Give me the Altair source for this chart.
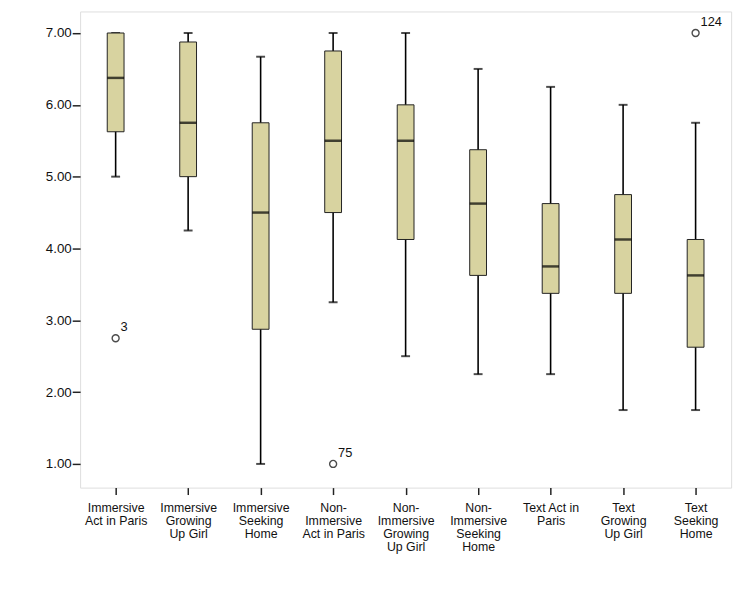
import altair as alt
import pandas as pd

categories = [
    "Immersive|Act in Paris",
    "Immersive|Growing|Up Girl",
    "Immersive|Seeking|Home",
    "Non-|Immersive|Act in Paris",
    "Non-|Immersive|Growing|Up Girl",
    "Non-|Immersive|Seeking|Home",
    "Text Act in|Paris",
    "Text|Growing|Up Girl",
    "Text|Seeking|Home",
]
whisker_low = [5.00, 4.25, 1.00, 3.25, 2.50, 2.25, 2.25, 1.75, 1.75]
q1 = [5.625, 5.00, 2.875, 4.50, 4.125, 3.625, 3.375, 3.375, 2.625]
median = [6.375, 5.75, 4.50, 5.50, 5.50, 4.625, 3.75, 4.125, 3.625]
q3 = [7.00, 6.875, 5.75, 6.75, 6.00, 5.375, 4.625, 4.75, 4.125]
whisker_high = [7.00, 7.00, 6.67, 7.00, 7.00, 6.50, 6.25, 6.00, 5.75]

outlier_cat = ["Immersive|Act in Paris", "Non-|Immersive|Act in Paris", "Text|Seeking|Home"]
outlier_val = [2.75, 1.00, 7.00]
outlier_label = ["3", "75", "124"]

df = pd.DataFrame({
    "cat": categories, "lo": whisker_low, "q1": q1, "med": median,
    "q3": q3, "hi": whisker_high,
})
dfo = pd.DataFrame({"cat": outlier_cat, "v": outlier_val, "lab": outlier_label})

xscale = alt.Scale(type="point", padding=0.49, domain=categories)
yscale = alt.Scale(domain=[0.67, 7.30], nice=False, zero=False)

x = alt.X("cat:N", scale=xscale, sort=categories, title=None,
          axis=alt.Axis(labelExpr="split(datum.label, '|')", labelAngle=0,
                        labelFontSize=12.5, labelFont="Liberation Sans",
                        labelColor="#111", labelLineHeight=13.3, labelPadding=7,
                        tickSize=7, tickColor="#222", tickWidth=1.5,
                        domain=False, grid=False))
yaxis = alt.Axis(values=[1, 2, 3, 4, 5, 6, 7], format=".2f", labelFontSize=13.5,
                 labelFont="Liberation Sans", labelColor="#111", tickSize=8,
                 tickColor="#222", tickWidth=1.5, domain=False, grid=False,
                 labelPadding=1)

base = alt.Chart(df)

whisk = base.mark_rule(color="black", strokeWidth=1.6).encode(
    x=x, y=alt.Y("lo:Q", scale=yscale, axis=yaxis, title=None), y2="hi:Q")
caps_lo = base.mark_tick(color="black", size=9, thickness=2, orient="horizontal").encode(
    x=x, y=alt.Y("lo:Q", scale=yscale))
caps_hi = base.mark_tick(color="black", size=9, thickness=2, orient="horizontal").encode(
    x=x, y=alt.Y("hi:Q", scale=yscale))
box = base.mark_bar(size=17, color="#D8D3A0", stroke="#222", strokeWidth=1).encode(
    x=x, y=alt.Y("q1:Q", scale=yscale), y2="q3:Q")
med = base.mark_tick(color="black", size=17, thickness=2.5, orient="horizontal").encode(
    x=x, y=alt.Y("med:Q", scale=yscale))

ob = alt.Chart(dfo)
pts = ob.mark_point(shape="circle", size=50, filled=False, color="black", strokeWidth=1.4).encode(
    x=x, y=alt.Y("v:Q", scale=yscale))
labs = ob.mark_text(align="left", baseline="bottom", dx=5, dy=-4, fontSize=13,
                    font="Liberation Sans", color="#111").encode(
    x=x, y=alt.Y("v:Q", scale=yscale), text="lab:N")

chart = alt.layer(whisk, caps_lo, caps_hi, box, med, pts, labs).properties(
    width=659, height=482,
    autosize=alt.AutoSizeParams(type="none"),
    padding={"left": 73, "top": 0, "right": 10, "bottom": 90},
).configure_view(
    fill="#F0F0F0", stroke="#333", strokeWidth=1.5
).configure(background="white")

chart.save("out.html", embed_options={"renderer": "svg", "actions": False})
